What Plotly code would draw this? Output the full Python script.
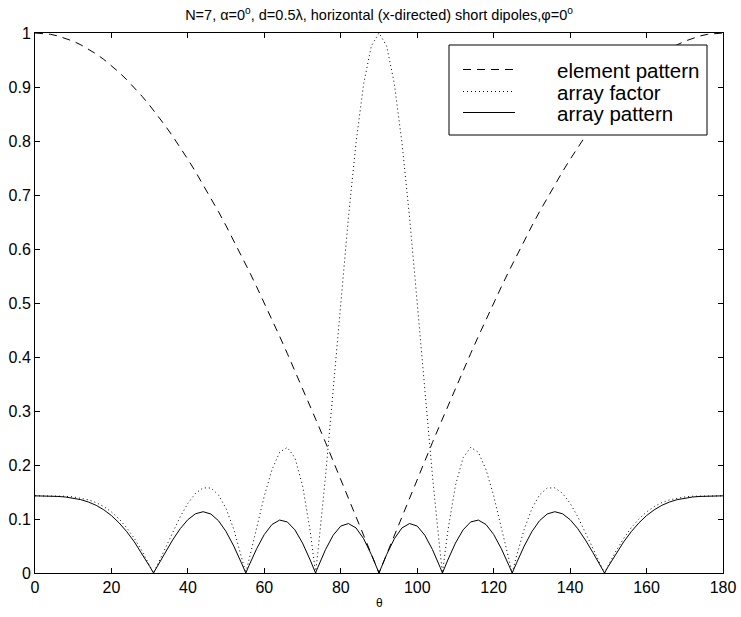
import plotly.graph_objects as go

# ---- data -------------------------------------------------------------
# element pattern |E(theta)| of an x-directed short dipole in the phi=0 plane
theta_el = [0, 2, 4, 6, 8, 10, 12, 14, 16, 18, 20, 22, 24, 26, 28, 30, 32, 34, 36, 38,
            40, 42, 44, 46, 48, 50, 52, 54, 56, 58, 60, 62, 64, 66, 68, 70, 72, 74, 76, 78,
            80, 82, 84, 86, 88, 90, 92, 94, 96, 98, 100, 102, 104, 106, 108, 110, 112, 114,
            116, 118, 120, 122, 124, 126, 128, 130, 132, 134, 136, 138, 140, 142, 144, 146,
            148, 150, 152, 154, 156, 158, 160, 162, 164, 166, 168, 170, 172, 174, 176, 178, 180]
element_pattern = [1.0000, 0.9994, 0.9976, 0.9945, 0.9903, 0.9848, 0.9781, 0.9703, 0.9613, 0.9511,
                   0.9397, 0.9272, 0.9135, 0.8988, 0.8829, 0.8660, 0.8480, 0.8290, 0.8090, 0.7880,
                   0.7660, 0.7431, 0.7193, 0.6947, 0.6691, 0.6428, 0.6157, 0.5878, 0.5592, 0.5299,
                   0.5000, 0.4695, 0.4384, 0.4067, 0.3746, 0.3420, 0.3090, 0.2756, 0.2419, 0.2079,
                   0.1736, 0.1392, 0.1045, 0.0698, 0.0349, 0.0000,
                   0.0349, 0.0698, 0.1045, 0.1392, 0.1736, 0.2079, 0.2419, 0.2756, 0.3090, 0.3420,
                   0.3746, 0.4067, 0.4384, 0.4695, 0.5000, 0.5299, 0.5592, 0.5878, 0.6157, 0.6428,
                   0.6691, 0.6947, 0.7193, 0.7431, 0.7660, 0.7880, 0.8090, 0.8290, 0.8480, 0.8660,
                   0.8829, 0.8988, 0.9135, 0.9272, 0.9397, 0.9511, 0.9613, 0.9703, 0.9781, 0.9848,
                   0.9903, 0.9945, 0.9976, 0.9994, 1.0000]

# array factor and total pattern, sampled with the nulls included
theta_arr = [0, 2, 4, 6, 8, 10, 12, 14, 16, 18, 20, 22, 24, 26, 28, 30, 31.0, 32, 34, 36, 38, 40,
             42, 44, 46, 48, 50, 52, 54, 55.15, 56, 58, 60, 62, 64, 66, 68, 70, 72, 73.4, 74, 76,
             78, 80, 82, 84, 86, 88, 90,
             92, 94, 96, 98, 100, 102, 104, 106, 106.6, 108, 110, 112, 114, 116, 118, 120, 122,
             124, 124.85, 126, 128, 130, 132, 134, 136, 138, 140, 142, 144, 146, 148, 149.0, 150,
             152, 154, 156, 158, 160, 162, 164, 166, 168, 170, 172, 174, 176, 178, 180]
array_factor = [0.1429, 0.1429, 0.1428, 0.1426, 0.1421, 0.1409, 0.1388, 0.1355, 0.1303, 0.1230,
                0.1131, 0.1001, 0.0838, 0.0640, 0.0407, 0.0143, 0.0, 0.0147, 0.0451, 0.0755,
                0.1042, 0.1290, 0.1476, 0.1577, 0.1573, 0.1447, 0.1192, 0.0811, 0.0321, 0.0,
                0.0249, 0.0851, 0.1429, 0.1913, 0.2235, 0.2327, 0.2134, 0.1620, 0.0776, 0.0,
                0.0376, 0.1784, 0.3362, 0.5002, 0.6582, 0.7975, 0.9067, 0.9760, 1.0,
                0.9760, 0.9067, 0.7975, 0.6582, 0.5002, 0.3362, 0.1784, 0.0376, 0.0,
                0.0776, 0.1620, 0.2134, 0.2327, 0.2235, 0.1913, 0.1429, 0.0851, 0.0249, 0.0,
                0.0321, 0.0811, 0.1192, 0.1447, 0.1573, 0.1577, 0.1476, 0.1290, 0.1042, 0.0755,
                0.0451, 0.0147, 0.0, 0.0143, 0.0407, 0.0640, 0.0838, 0.1001, 0.1131, 0.1230,
                0.1303, 0.1355, 0.1388, 0.1409, 0.1421, 0.1426, 0.1428, 0.1429, 0.1429]
array_pattern = [0.1429, 0.1428, 0.1425, 0.1418, 0.1407, 0.1388, 0.1358, 0.1314, 0.1253, 0.1170,
                 0.1063, 0.0928, 0.0766, 0.0575, 0.0359, 0.0123, 0.0, 0.0124, 0.0374, 0.0611,
                 0.0821, 0.0988, 0.1097, 0.1135, 0.1093, 0.0968, 0.0766, 0.0499, 0.0188, 0.0,
                 0.0139, 0.0451, 0.0714, 0.0898, 0.0980, 0.0946, 0.0799, 0.0554, 0.0240, 0.0,
                 0.0104, 0.0432, 0.0699, 0.0869, 0.0916, 0.0834, 0.0633, 0.0341, 0.0,
                 0.0341, 0.0633, 0.0834, 0.0916, 0.0869, 0.0699, 0.0432, 0.0104, 0.0,
                 0.0240, 0.0554, 0.0799, 0.0946, 0.0980, 0.0898, 0.0714, 0.0451, 0.0139, 0.0,
                 0.0188, 0.0499, 0.0766, 0.0968, 0.1093, 0.1135, 0.1097, 0.0988, 0.0821, 0.0611,
                 0.0374, 0.0124, 0.0, 0.0123, 0.0359, 0.0575, 0.0766, 0.0928, 0.1063, 0.1170,
                 0.1253, 0.1314, 0.1358, 0.1388, 0.1407, 0.1418, 0.1425, 0.1428, 0.1429]

series_names = ["element pattern", "array factor", "array pattern"]
x_ticks = [0, 20, 40, 60, 80, 100, 120, 140, 160, 180]
y_ticks = [0, 0.1, 0.2, 0.3, 0.4, 0.5, 0.6, 0.7, 0.8, 0.9, 1]
y_tick_text = ["0", "0.1", "0.2", "0.3", "0.4", "0.5", "0.6", "0.7", "0.8", "0.9", "1"]

assert len(theta_el) == len(element_pattern)
assert len(theta_arr) == len(array_factor) == len(array_pattern)

# ---- figure -----------------------------------------------------------
W, H = 741, 617
L, R, T, B = 35, 18, 33, 44
PW, PH = W - L - R, H - T - B

FONT = "Liberation Sans, Arial, Helvetica, sans-serif"
dash_style = "8px,6px"
dot_style = "1px,3px"

fig = go.Figure()
fig.add_trace(go.Scatter(x=theta_el, y=element_pattern, mode="lines", name=series_names[0],
                         line=dict(color="black", width=1, dash=dash_style), showlegend=False))
fig.add_trace(go.Scatter(x=theta_arr, y=array_factor, mode="lines", name=series_names[1],
                         line=dict(color="black", width=1, dash=dot_style), showlegend=False))
fig.add_trace(go.Scatter(x=theta_arr, y=array_pattern, mode="lines", name=series_names[2],
                         line=dict(color="black", width=1), showlegend=False))


def px_x(px):
    return (px - L) / PW


def px_y(py):
    return (H - B - py) / PH


# hand-drawn legend box in the upper right
shapes = [dict(type="rect", xref="paper", yref="paper",
               x0=px_x(449), x1=px_x(707), y0=px_y(135), y1=px_y(45),
               line=dict(color="black", width=1), fillcolor="white", layer="above")]
annotations = []
rows = [(69.5, dash_style), (91.5, dot_style), (112.5, "solid")]
for name, (ry, ds) in zip(series_names, rows):
    shapes.append(dict(type="line", xref="paper", yref="paper",
                       x0=px_x(463), x1=px_x(515), y0=px_y(ry), y1=px_y(ry),
                       line=dict(color="black", width=1, dash=ds), layer="above"))
    annotations.append(dict(xref="paper", yref="paper", x=px_x(555), y=px_y(ry + 1),
                            text=name, showarrow=False, xanchor="left", yanchor="middle",
                            font=dict(family=FONT, size=20.5, color="black")))

# x-axis label
annotations.append(dict(xref="paper", yref="paper", x=0.5, y=px_y(603), text="θ",
                        showarrow=False, xanchor="center", yanchor="middle",
                        font=dict(family=FONT, size=12, color="black")))

fig.update_layout(
    width=W, height=H,
    autosize=False,
    margin=dict(l=L, r=R, t=T, b=B, pad=0, autoexpand=False),
    paper_bgcolor="white", plot_bgcolor="white",
    title=dict(text="N=7, α=0<sup>o</sup>, d=0.5λ, horizontal (x-directed) short dipoles,φ=0<sup>o</sup>",
               x=0.5 * (L + W - R) / W, xanchor="center", y=1 - 15 / H, yanchor="middle",
               font=dict(family=FONT, size=14.5, color="black")),
    shapes=shapes,
    annotations=annotations,
    showlegend=False,
)
fig.update_xaxes(range=[0, 180], tickvals=x_ticks, ticks="inside", ticklen=5, tickcolor="black",
                 showline=True, linecolor="black", linewidth=1, mirror="ticks",
                 showgrid=False, zeroline=False, automargin=False,
                 tickfont=dict(family=FONT, size=16, color="black"))
fig.update_yaxes(range=[0, 1], tickvals=y_ticks, ticktext=y_tick_text, ticks="inside", ticklen=5,
                 tickcolor="black", showline=True, linecolor="black", linewidth=1, mirror="ticks",
                 showgrid=False, zeroline=False, automargin=False,
                 tickfont=dict(family=FONT, size=16, color="black"))

fig.write_html("out.html")
